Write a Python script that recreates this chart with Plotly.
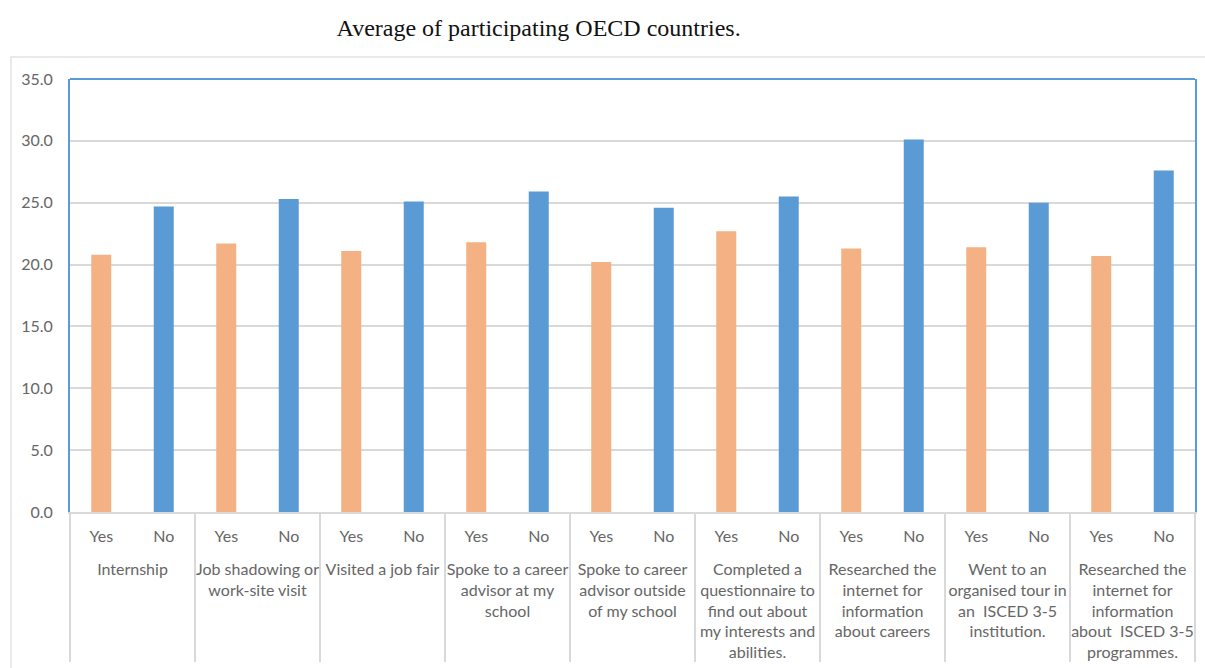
import plotly.graph_objects as go

# ── data ────────────────────────────────────────
categories = [
    "Internship",
    "Job shadowing or<br>work-site visit",
    "Visited a job fair",
    "Spoke to a career<br>advisor at my<br>school",
    "Spoke to career<br>advisor outside<br>of my school",
    "Completed a<br>questionnaire to<br>find out about<br>my interests and<br>abilities.",
    "Researched the<br>internet for<br>information<br>about careers",
    "Went to an<br>organised tour in<br>an  ISCED 3-5<br>institution.",
    "Researched the<br>internet for<br>information<br>about  ISCED 3-5<br>programmes.",
]
answers = ["Yes", "No"]
yes_values = [20.8, 21.7, 21.1, 21.8, 20.2, 22.7, 21.3, 21.4, 20.7]
no_values = [24.7, 25.3, 25.1, 25.9, 24.6, 25.5, 30.1, 25.0, 27.6]
y_ticks = [0, 5, 10, 15, 20, 25, 30, 35]

YES_COLOR = "#F4B183"
NO_COLOR = "#5B9BD5"
GRID = "#D9D9D9"
TEXT = "#666666"

# interleave Yes / No inside each group
# (leading <br> leaves a gap between the Yes/No row and the group labels)
outer, inner, vals, colors = [], [], [], []
for cat, y_yes, y_no in zip(categories, yes_values, no_values):
    for ans, v in zip(answers, (y_yes, y_no)):
        outer.append("<br>" + cat)
        inner.append(ans)
        vals.append(v)
        colors.append(YES_COLOR if ans == "Yes" else NO_COLOR)

fig = go.Figure()
fig.add_trace(go.Bar(
    x=[outer, inner],
    y=vals,
    marker=dict(color=colors, line=dict(width=0)),
    showlegend=False,
))

fig.update_layout(
    width=1205,
    height=668,
    margin=dict(l=70, r=8, t=79, b=155),
    paper_bgcolor="white",
    plot_bgcolor="white",
    bargap=0.68,
    font=dict(family="Lato, Carlito, sans-serif", size=16, color=TEXT),
    title=dict(
        text="Average of participating OECD countries.",
        x=0.447, xref="container", xanchor="center",
        y=0.958, yref="container", yanchor="middle",
        font=dict(family="Liberation Serif, Times New Roman, serif", size=24, color="#111111"),
    ),
)

fig.update_yaxes(
    range=[0, 35],
    tickvals=y_ticks,
    tickformat=".1f",
    showgrid=True, gridcolor=GRID, gridwidth=1.5,
    zeroline=False,
    showline=True, linecolor=NO_COLOR, linewidth=2, mirror=True,
    ticks="", ticklabelstandoff=12,
    tickfont=dict(size=16, color=TEXT),
)
fig.update_xaxes(
    type="multicategory",
    showline=True, linecolor=GRID, linewidth=2,
    showgrid=False,
    ticks="", ticklabelstandoff=9,
    showdividers=True, dividercolor=GRID, dividerwidth=1.5,
    tickfont=dict(size=16, color=TEXT),
)

# blue top edge of the plot area
fig.add_shape(type="line", xref="x domain", yref="y domain",
              x0=0, x1=1, y0=1, y1=1,
              line=dict(color=NO_COLOR, width=2))
# light chart frame
fig.add_shape(type="rect", xref="paper", yref="paper",
              x0=-0.0524, x1=1.02, y0=-0.4, y1=1.0507,
              line=dict(color="#E3E3E3", width=1.5), layer="below")

fig.write_html(
    "out.html",
    config={"displayModeBar": False},
    post_script="document.body.style.margin='0';",
)
